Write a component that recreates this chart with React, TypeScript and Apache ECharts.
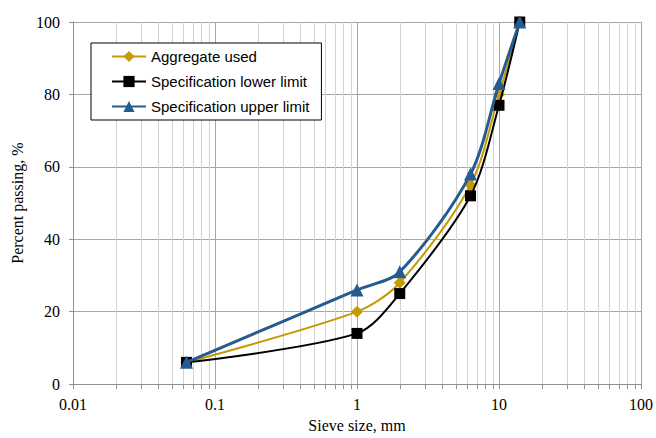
import React, { useEffect, useRef } from "react";
import * as echarts from "echarts";

const sieveSizes = [0.063, 1, 2, 6.3, 10, 14];
const aggregateUsed = [6, 20, 28, 55, 80, 100];
const lowerLimit = [6, 14, 25, 52, 77, 100];
const upperLimit = [6, 26, 31, 58, 83, 100];
const minorGrid = [
  0.02, 0.03, 0.04, 0.05, 0.06, 0.07, 0.08, 0.09,
  0.2, 0.3, 0.4, 0.5, 0.6, 0.7, 0.8, 0.9,
  2, 3, 4, 5, 6, 7, 8, 9,
  20, 30, 40, 50, 60, 70, 80, 90,
];
const seriesNames = ["Aggregate used", "Specification lower limit", "Specification upper limit"];

const pair = (ys: number[]) => sieveSizes.map((x, i) => [x, ys[i]]);

export default function App() {
  const ref = useRef<HTMLDivElement>(null);
  useEffect(() => {
    if (!ref.current) return;
    const chart = echarts.init(ref.current, undefined, { renderer: "svg" });
    const serif = "'Liberation Serif', 'Times New Roman', serif";
    chart.setOption({
      animation: false,
      backgroundColor: "#ffffff",
      grid: { left: 73, right: 13, top: 22, bottom: 51, containLabel: false },
      legend: {
        data: seriesNames,
        orient: "vertical",
        left: 91,
        top: 43,
        backgroundColor: "#ffffff",
        borderColor: "#000000",
        borderWidth: 1,
        padding: [6, 12, 6, 20],
        itemWidth: 34,
        itemHeight: 14,
        itemGap: 10,
        textStyle: { fontFamily: "'Liberation Sans', Arial, sans-serif", fontSize: 15, color: "#000", width: 166 },
      },
      xAxis: {
        type: "log",
        logBase: 10,
        min: 0.01,
        max: 100,
        name: "Sieve size, mm",
        nameLocation: "middle",
        nameGap: 30,
        nameTextStyle: { fontFamily: serif, fontSize: 16, color: "#000" },
        axisLine: { show: true, onZero: false, lineStyle: { color: "#909090", width: 1 } },
        axisTick: { show: true, length: 5, lineStyle: { color: "#909090" } },
        axisLabel: { fontFamily: serif, fontSize: 16, color: "#000", margin: 12,
          formatter: (v: number) => String(v) },
        splitLine: { show: true, lineStyle: { color: "#a6a6a6", width: 1 } },
        minorTick: { show: false },
        minorSplitLine: { show: false },
      },
      yAxis: {
        type: "value",
        min: 0,
        max: 100,
        interval: 20,
        name: "Percent passing, %",
        nameLocation: "middle",
        nameGap: 45,
        nameTextStyle: { fontFamily: serif, fontSize: 16, color: "#000" },
        axisLine: { show: true, lineStyle: { color: "#909090", width: 1 } },
        axisTick: { show: true, length: 4, lineStyle: { color: "#909090" } },
        axisLabel: { fontFamily: serif, fontSize: 16, color: "#000", margin: 13 },
        splitLine: { show: true, lineStyle: { color: "#a6a6a6", width: 1 } },
      },
      series: [
        {
          name: "minor-grid",
          type: "custom",
          silent: true,
          z: 1,
          clip: false,
          data: minorGrid.map((x) => [x]),
          encode: { x: 0 },
          renderItem: (params: any, api: any) => {
            const x = api.value(0);
            const p0 = api.coord([x, 0]);
            const p1 = api.coord([x, 100]);
            const px = Math.round(p0[0]) + 0.5;
            return {
              type: "group",
              children: [
                {
                  type: "line",
                  shape: { x1: px, y1: p0[1], x2: px, y2: p1[1] },
                  style: { stroke: "#d2d2d2", lineWidth: 1 },
                },
                {
                  type: "line",
                  shape: { x1: px, y1: p0[1], x2: px, y2: p0[1] + 5 },
                  style: { stroke: "#909090", lineWidth: 1 },
                },
              ],
            };
          },
        },
        {
          name: seriesNames[0],
          type: "line",
          data: pair(aggregateUsed),
          smooth: 0.3,
          symbol: "diamond",
          symbolSize: 12,
          color: "#C49A00",
          lineStyle: { color: "#C49A00", width: 2 },
          itemStyle: { color: "#C49A00" },
          z: 3,
        },
        {
          name: seriesNames[1],
          type: "line",
          data: pair(lowerLimit),
          smooth: 0.3,
          symbol: "rect",
          symbolSize: 11,
          color: "#000000",
          lineStyle: { color: "#000000", width: 2 },
          itemStyle: { color: "#000000" },
          z: 4,
        },
        {
          name: seriesNames[2],
          type: "line",
          data: pair(upperLimit),
          smooth: 0.3,
          symbol: "triangle",
          symbolSize: 13,
          color: "#245C8F",
          lineStyle: { color: "#245C8F", width: 3 },
          itemStyle: { color: "#245C8F" },
          z: 5,
        },
      ],
    });
    return () => chart.dispose();
  }, []);
  return <div ref={ref} style={{ width: 656, height: 438, position: "absolute", left: 0, top: 0 }} />;
}
